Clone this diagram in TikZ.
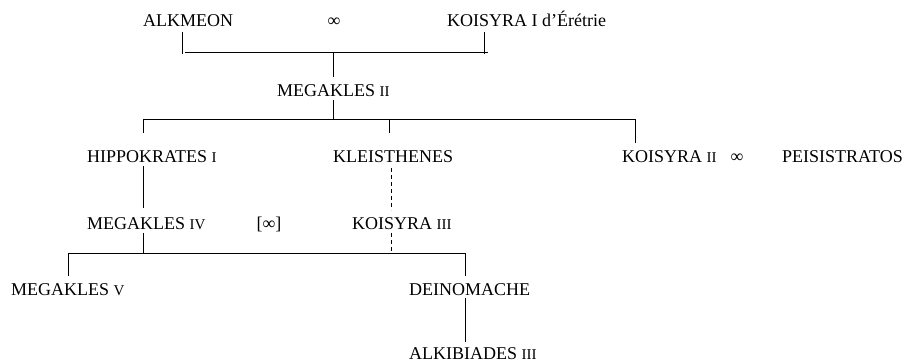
\documentclass[tikz,border=0pt]{standalone}
\usepackage{fontspec}
\setmainfont{Liberation Serif}
\newcommand{\rang}[1]{{\fontsize{15}{15}\selectfont #1}}
\tikzset{
  nom/.style={anchor=base west,inner sep=0pt,font=\fontsize{18}{20}\selectfont},
  union/.style={anchor=base,inner sep=0pt,font=\fontsize{18}{20}\selectfont},
  lien/.style={line width=0.7pt},
  douteux/.style={lien,dash pattern=on 4pt off 3pt}
}
\begin{document}
\begin{tikzpicture}[x=1pt,y=-1pt]
\useasboundingbox (0,0) rectangle (912,363);

% Génération 1
\node[nom] (alkmeon) at (143,27) {ALKMEON};
\node[union] (u1) at (334,27) {∞};
\node[nom] (koisyraI) at (447,27) {KOISYRA I d'Érétrie};

\coordinate (a1) at (182,32);
\coordinate (a2) at (182,54);
\coordinate (k1) at (484,32);
\coordinate (k2) at (484,54);
\coordinate (g1) at (185,52);
\coordinate (g2) at (488,52);
\coordinate (g3) at (333,52);
\coordinate (g4) at (333,77);

\draw[lien] (a1) -- (a2);
\draw[lien] (k1) -- (k2);
\draw[lien] (g1) -- (g2);
\draw[lien] (g3) -- (g4);

% Génération 2
\node[nom] (megII) at (277,97) {MEGAKLES \rang{II}};

\coordinate (m1) at (333,100);
\coordinate (m2) at (333,119);
\coordinate (f1) at (143,119);
\coordinate (f2) at (389,119);
\coordinate (f3) at (635,119);

\draw[lien] (m1) -- (m2);
\draw[lien] (f1) -- (f3);
\draw[lien] (f1) -- (143,133);
\draw[lien] (f2) -- (389,133);
\draw[lien] (f3) -- (635,143);

% Génération 3
\node[nom] (hippo) at (87,163) {HIPPOKRATES \rang{I}};
\node[nom] (kleis) at (333,163) {KLEISTHENES};
\node[nom] (koisyraII) at (622,163) {KOISYRA \rang{II}};
\node[union] (u2) at (737,163) {∞};
\node[nom] (peisis) at (782,163) {PEISISTRATOS};

\coordinate (h1) at (143,166);
\coordinate (h2) at (143,208);
\coordinate (d1) at (391,168);
\coordinate (d2) at (391,210);

\draw[lien] (h1) -- (h2);
\draw[douteux] (d1) -- (d2);

% Génération 4
\node[nom] (megIV) at (87,230) {MEGAKLES \rang{IV}};
\node[union] (u3) at (269,230) {[∞]};
\node[nom] (koisyraIII) at (352,230) {KOISYRA \rang{III}};

\coordinate (h3) at (143,233);
\coordinate (h4) at (143,253);
\coordinate (d3) at (391,233);
\coordinate (d4) at (391,253);
\coordinate (e1) at (68,253);
\coordinate (e2) at (465,253);

\draw[lien] (h3) -- (h4);
\draw[douteux] (d3) -- (d4);
\draw[lien] (e1) -- (e2);
\draw[lien] (e1) -- (68,276);
\draw[lien] (e2) -- (465,276);

% Génération 5
\node[nom] (megV) at (11,295) {MEGAKLES \rang{V}};
\node[nom] (deino) at (409,295) {DEINOMACHE};

\coordinate (n1) at (465,298);
\coordinate (n2) at (465,342);
\draw[lien] (n1) -- (n2);

% Génération 6
\node[nom] (alki) at (409,359) {ALKIBIADES \rang{III}};

\end{tikzpicture}
\end{document}
